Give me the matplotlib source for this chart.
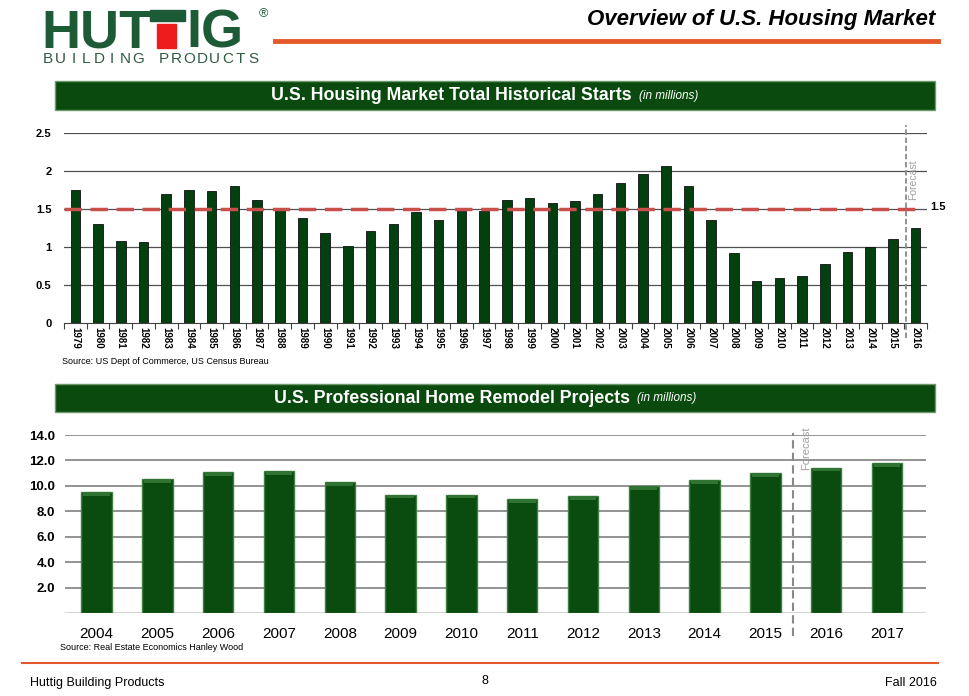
import numpy as np
import matplotlib
matplotlib.use('Agg')
import matplotlib.pyplot as plt
from matplotlib.patches import Rectangle
from matplotlib.lines import Line2D

plt.rcParams['font.family'] = ['Liberation Sans', 'DejaVu Sans']

# dati grafico 1: avvii totali (milioni)
anni_starts = [str(a) for a in range(1979, 2017)]
starts = [1.75, 1.30, 1.08, 1.065, 1.70, 1.75, 1.74, 1.81, 1.62, 1.49,
          1.38, 1.19, 1.01, 1.21, 1.30, 1.46, 1.36, 1.48, 1.47, 1.62,
          1.64, 1.58, 1.60, 1.70, 1.85, 1.96, 2.07, 1.80, 1.36, 0.915,
          0.555, 0.59, 0.61, 0.78, 0.93, 1.00, 1.11, 1.25]
media_starts = 1.5

# dati grafico 2: progetti remodel (milioni)
anni_remodel = [str(a) for a in range(2004, 2018)]
remodel = [9.53, 10.53, 11.06, 11.19, 10.27, 9.32, 9.32,
           8.98, 9.17, 9.96, 10.43, 11.03, 11.43, 11.77]

W, H = 970, 696
fig = plt.figure(figsize=(W / 100, H / 100), dpi=100)


def fx(x):
    return x / W


def fy(y):
    return 1 - y / H


def ax_rect(left, top, right, bottom):
    return [fx(left), fy(bottom), (right - left) / W, (bottom - top) / H]


verde_scuro = '#0b4a0e'
verde_logo = '#1d5a36'
arancio = '#e4592b'

# --- intestazione / logo ---
fig.text(fx(41), fy(48), 'HUT', color=verde_logo, fontsize=39, fontweight='bold',
         va='baseline', ha='left')
fig.text(fx(186), fy(48), 'IG', color=verde_logo, fontsize=39, fontweight='bold',
         va='baseline', ha='left')
fig.patches.append(Rectangle((fx(150), fy(21)), (185 - 150) / W, 11 / H,
                             transform=fig.transFigure, color=verde_logo))
fig.patches.append(Rectangle((fx(157), fy(48)), 19 / W, 24 / H,
                             transform=fig.transFigure, color='#ee1c1c'))
fig.text(fx(263), fy(14), '®', color=verde_logo, fontsize=9, va='center', ha='center')
lettere = 'BUILDING PRODUCTS'
for i, ch in enumerate(lettere):
    fig.text(fx(48 + i * (205 / (len(lettere) - 1))), fy(59), ch, color='#2f5a42',
             fontsize=11, va='center', ha='center')

fig.text(fx(935), fy(19), 'Overview of U.S. Housing Market', fontsize=16,
         fontweight='bold', fontstyle='italic', ha='right', va='center')
fig.lines.append(Line2D([fx(275), fx(938)], [fy(41), fy(41)], color=arancio, lw=3.5,
                        transform=fig.transFigure))


def banner(top, bottom, titolo, right_x):
    fig.patches.append(Rectangle((fx(55), fy(bottom)), (935 - 55) / W, (bottom - top) / H,
                                 transform=fig.transFigure, facecolor=verde_scuro,
                                 edgecolor='#6d9a6d', lw=1))
    yc = fy((top + bottom) / 2)
    fig.text(fx(right_x), yc, titolo, color='white', fontsize=12.8, fontweight='bold',
             ha='right', va='center')
    fig.text(fx(right_x + 7), yc, '(in millions)', color='white', fontsize=8.5,
             fontstyle='italic', ha='left', va='center')


banner(81, 110, 'U.S. Housing Market Total Historical Starts', 632)
banner(384, 412, 'U.S. Professional Home Remodel Projects', 630)

# --- grafico 1 ---
ax1 = fig.add_axes(ax_rect(64, 133.3, 927, 322.7))
x1 = np.arange(len(starts))
ax1.bar(x1, starts, width=0.42, color='#034010', edgecolor='#101010', lw=0.6, zorder=3)
ax1.set_xlim(-0.5, len(starts) - 0.5)
ax1.set_ylim(0, 2.5)
ax1.set_yticks([0, 0.5, 1, 1.5, 2, 2.5])
ax1.set_yticklabels(['0', '0.5', '1', '1.5', '2', '2.5'], fontsize=8, fontweight='bold')
for v in [0.5, 1, 1.5, 2, 2.5]:
    ax1.axhline(v, color='#505050', lw=0.9, zorder=1)
ax1.set_xticks(x1)
ax1.set_xticklabels(anni_starts, rotation=270, fontsize=7, fontweight='bold')
ax1.set_xticks(np.arange(-0.5, len(starts)), minor=True)
ax1.tick_params(axis='x', which='major', length=0, pad=3)
ax1.tick_params(axis='x', which='minor', length=4, color='#404040', width=0.8)
ax1.tick_params(axis='y', length=0, pad=9)
for s in ['top', 'right', 'left']:
    ax1.spines[s].set_visible(False)
ax1.spines['bottom'].set_color('#404040')
ax1.spines['bottom'].set_zorder(4)
ax1.plot([-0.5, len(starts) - 1], [media_starts, media_starts], color='#c9504a', lw=2.5,
         dashes=(5, 2.5), zorder=4)
ax1.text(len(starts) - 0.35, media_starts + 0.03, '1.5', fontsize=8, fontweight='bold',
         ha='left', va='center')
ax1.axvline(len(starts) - 1.42, ymin=-0.08, ymax=1.045, color='#8a8a8a', lw=1.3,
            dashes=(3, 1.5), clip_on=False, zorder=5)
ax1.text(len(starts) - 1.13, 1.62, 'Forecast', rotation=90, fontsize=7.5, color='#a0a0a0',
         ha='center', va='bottom')
fig.text(fx(62), fy(361), 'Source: US Dept of Commerce, US Census Bureau', fontsize=6.5,
         va='center')

# --- grafico 2 ---
ax2 = fig.add_axes(ax_rect(65, 435, 926, 613))
x2 = np.arange(len(remodel))
ax2.bar(x2, remodel, width=0.5, color='#0a4c10', edgecolor='#3f7f3f', lw=1, zorder=3)
ax2.bar(x2, [0.3] * len(remodel), bottom=np.array(remodel) - 0.3, width=0.44,
        color='#2f7433', lw=0, zorder=4)
ax2.set_xlim(-0.52, len(remodel) - 0.36)
ax2.set_ylim(0, 14)
ax2.set_yticks([2, 4, 6, 8, 10, 12, 14])
ax2.set_yticklabels(['2.0', '4.0', '6.0', '8.0', '10.0', '12.0', '14.0'], fontsize=9.5,
                    fontweight='bold')
for v in [2, 4, 6, 8, 10, 12, 14]:
    ax2.axhline(v, color='#808080', lw=1.2, zorder=1)
ax2.axhline(0, color='#cccccc', lw=1.2, zorder=1)
ax2.set_xticks(x2)
ax2.set_xticklabels(anni_remodel, fontsize=11)
ax2.tick_params(axis='x', length=0, pad=10)
ax2.tick_params(axis='y', length=0, pad=7)
for s in ax2.spines.values():
    s.set_visible(False)
ax2.axvline(11.46, ymin=-0.13, ymax=1.01, color='#8a8a8a', lw=1.5, dashes=(4, 2),
            clip_on=False, zorder=5)
ax2.text(11.67, 11.25, 'Forecast', rotation=90, fontsize=8, color='#a0a0a0',
         ha='center', va='bottom')
fig.text(fx(60), fy(647), 'Source: Real Estate Economics Hanley Wood', fontsize=6.5,
         va='center')

# --- piè di pagina ---
fig.lines.append(Line2D([fx(22), fx(938)], [fy(663), fy(663)], color=arancio, lw=1.5,
                        transform=fig.transFigure))
narrow = ['Liberation Sans Narrow', 'Liberation Sans']
fig.text(fx(30), fy(683), 'Huttig Building Products', fontsize=9, family=narrow, va='center')
fig.text(fx(485), fy(681), '8', fontsize=9, family=narrow, va='center', ha='center')
fig.text(fx(937), fy(683), 'Fall 2016', fontsize=9, family=narrow, va='center', ha='right')

fig.savefig('out.png', dpi=100)
